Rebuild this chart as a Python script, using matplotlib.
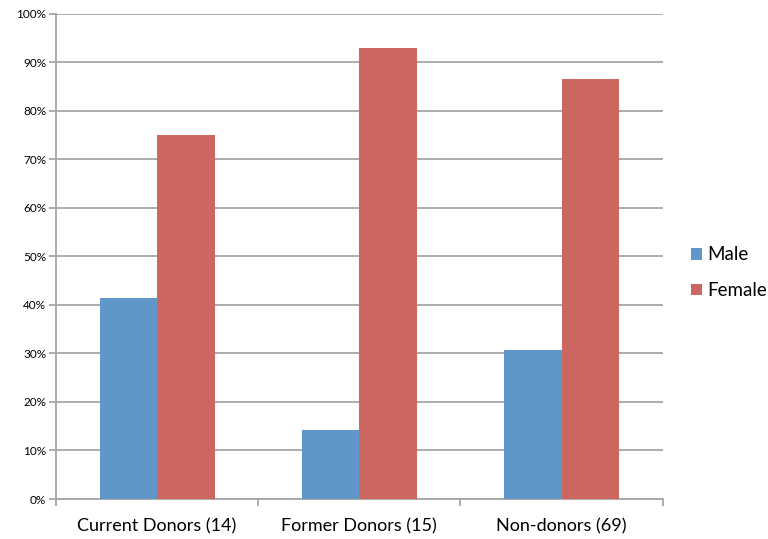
import numpy as np
import matplotlib.pyplot as plt
from matplotlib.ticker import PercentFormatter

# Data
categories = ["Current Donors (14)", "Former Donors (15)", "Non-donors (69)"]
male = [41.5, 14.2, 30.7]
female = [75.0, 92.9, 86.5]

plt.rcParams['font.family'] = ['Lato', 'DejaVu Sans']

fig = plt.figure(figsize=(7.68, 5.39), dpi=100)
ax = fig.add_axes([0.0729, 0.0742, 0.790, 0.900])

x = np.arange(len(categories))
w = 0.284
ax.bar(x - w / 2, male, w, color='#6196c8', label='Male', zorder=3)
ax.bar(x + w / 2, female, w, color='#cc6660', label='Female', zorder=3)

ax.set_xlim(-0.5, len(categories) - 0.5)
ax.set_ylim(0, 100)
ax.set_yticks(np.arange(0, 101, 10))
ax.yaxis.set_major_formatter(PercentFormatter(decimals=0))
ax.grid(axis='y', color='#a6a6a6', linewidth=1.3, zorder=0)

ax.set_xticks(x)
ax.set_xticklabels(categories, fontsize=13)
ax.set_xticks(np.arange(-0.5, len(categories)), minor=True)
ax.tick_params(axis='x', which='major', length=0, pad=14)
ax.tick_params(axis='x', which='minor', length=5, color='#a6a6a6', width=1.3)
ax.tick_params(axis='y', length=5, color='#a6a6a6', width=1.3, labelsize=8.5, pad=2)

for s in ['top', 'right']:
    ax.spines[s].set_visible(False)
for s in ['left', 'bottom']:
    ax.spines[s].set_color('#a6a6a6')
    ax.spines[s].set_linewidth(1.3)

fig.legend(loc='center left', bbox_to_anchor=(0.8997, 0.494), frameon=False,
           fontsize=13.5, handlelength=0.6, handleheight=0.6,
           handletextpad=0.25, labelspacing=1.0,
           borderaxespad=0, borderpad=0)

fig.savefig('out.png', dpi=100)
